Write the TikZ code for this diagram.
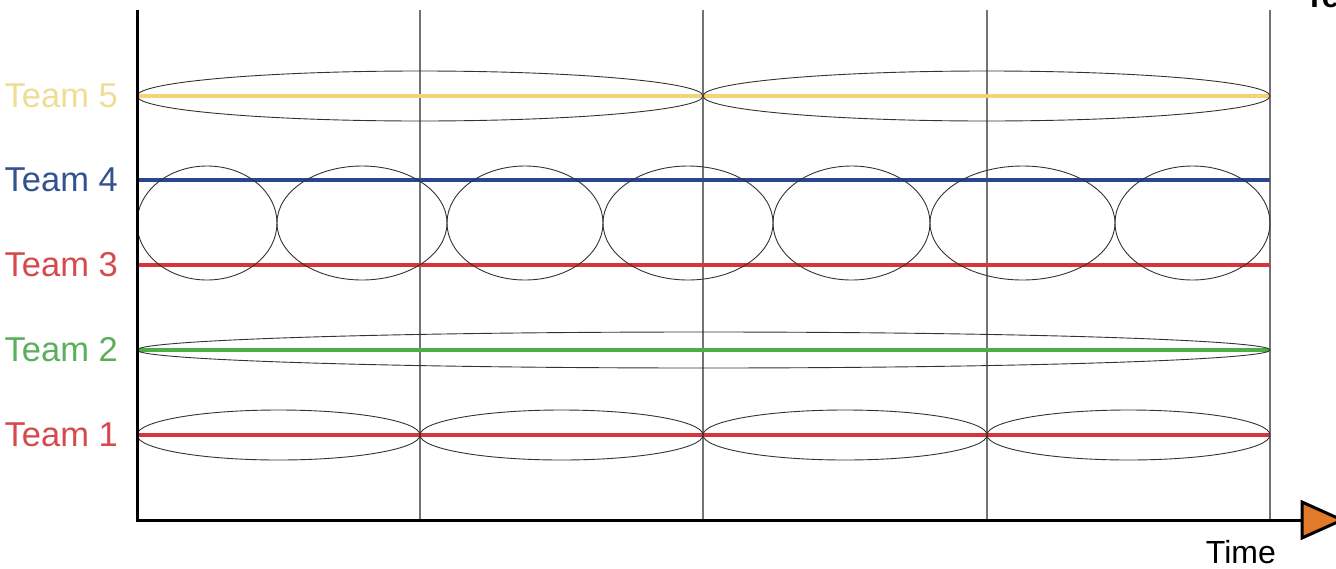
\documentclass[tikz,border=0pt]{standalone}
\usepackage{fontspec}
\setmainfont{Liberation Sans}
\begin{document}
\begin{tikzpicture}[x=1pt,y=-1pt,
  lbl/.style={anchor=east, font=\fontsize{34.5}{34.5}\selectfont, inner sep=0pt},
  teamline/.style={line width=3.3pt},
  oval/.style={draw=black!80, line width=0.9pt},
  grid/.style={draw=black!55, line width=1.1pt},
  axis/.style={draw=black, line width=3pt}]
\definecolor{tyellow}{HTML}{F2D57A}
\definecolor{tblue}{HTML}{2C4590}
\definecolor{tred}{HTML}{D8353A}
\definecolor{tgreen}{HTML}{4DAE48}
\definecolor{lyellow}{HTML}{F1DC96}
\definecolor{lblue}{HTML}{34528F}
\definecolor{lred}{HTML}{D64A4D}
\definecolor{lgreen}{HTML}{5BAF5B}
\definecolor{torange}{HTML}{E27A2C}
\useasboundingbox (0,0) rectangle (1336,568);
\begin{scope}
\clip (0,0) rectangle (1336,568);
% grid lines
\foreach \gx in {420,703,987,1270} \draw[grid] (\gx,10) -- (\gx,520);
% team lines
\draw[teamline, tyellow] (137,96) -- (1270,96);
\draw[teamline, tblue] (137,180) -- (1270,180);
\draw[teamline, tred] (137,265) -- (1270,265);
\draw[teamline, tgreen] (137,350) -- (1270,350);
\draw[teamline, tred] (137,435) -- (1270,435);
% Team 5 ovals
\draw[oval] (420,96) ellipse [x radius=283, y radius=25];
\draw[oval] (986.5,96) ellipse [x radius=283.5, y radius=25];
% Team 3/4 ovals
\draw[oval] (207,223) ellipse [x radius=70, y radius=57];
\draw[oval] (362,223) ellipse [x radius=85, y radius=57];
\draw[oval] (525,223) ellipse [x radius=78, y radius=57];
\draw[oval] (688,223) ellipse [x radius=85, y radius=57];
\draw[oval] (851.5,223) ellipse [x radius=78.5, y radius=57];
\draw[oval] (1022.5,223) ellipse [x radius=92.5, y radius=57];
\draw[oval] (1192.5,223) ellipse [x radius=77.5, y radius=57];
% Team 2 oval
\draw[oval] (703.5,350) ellipse [x radius=566.5, y radius=18];
% Team 1 ovals
\draw[oval] (278.5,435) ellipse [x radius=141.5, y radius=25];
\draw[oval] (561.5,435) ellipse [x radius=141.5, y radius=25];
\draw[oval] (845,435) ellipse [x radius=142, y radius=25];
\draw[oval] (1128.5,435) ellipse [x radius=141.5, y radius=25];
% axes
\coordinate (O) at (137,520);
\coordinate (top) at (137,10);
\coordinate (xend) at (1302,520);
\draw[axis] (top) -- (O) -- (xend);
\draw[fill=torange, draw=black, line width=3pt, line join=miter]
  (1302,502) -- (1342,520) -- (1302,538) -- cycle;
% labels
\node[lbl, text=lyellow] (t5) at (118,96) {Team 5};
\node[lbl, text=lblue] (t4) at (118,180) {Team 4};
\node[lbl, text=lred] (t3) at (118,265) {Team 3};
\node[lbl, text=lgreen] (t2) at (118,350) {Team 2};
\node[lbl, text=lred] (t1) at (118,435) {Team 1};
\node[anchor=east, font=\fontsize{32}{32}\selectfont, inner sep=0pt] (time) at (1276,552) {Time};
\node[anchor=south west, font=\bfseries\fontsize{31}{31}\selectfont, inner sep=0pt] (te) at (1305,8) {Te};
\end{scope}
\end{tikzpicture}
\end{document}
